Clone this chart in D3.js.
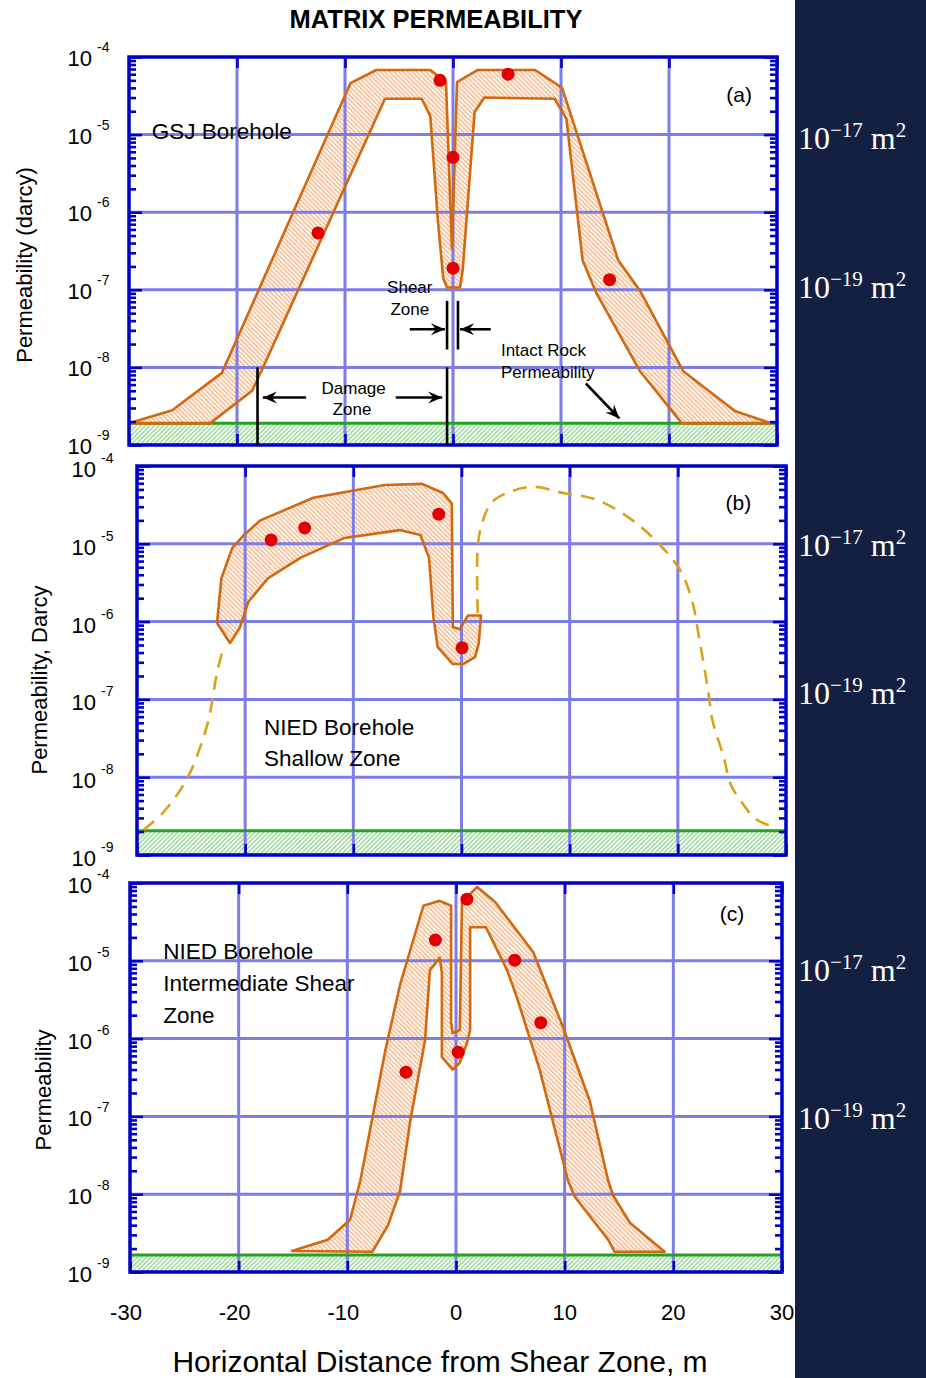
<!DOCTYPE html>
<html>
<head>
<meta charset="utf-8">
<script src="https://cdn.jsdelivr.net/npm/d3@7"></script>
<style>
  html, body { margin: 0; padding: 0; background: #fff; }
  svg { display: block; font-family: "Liberation Sans", Arial, sans-serif; }
</style>
</head>
<body>
<svg id="chart" width="926" height="1378"></svg>
<script>
// Horizontal distance from the shear zone (m)
const xTicks = [-30, -20, -10, 0, 10, 20, 30];
// Permeability decades (darcy exponents)
const decadeExps = [-4, -5, -6, -7, -8, -9];
// SI equivalents shown in the side strip
const siEquivalents = [
  { darcy: 1e-5, exp: "\u221217" },
  { darcy: 1e-7, exp: "\u221219" }
];

// (a) GSJ borehole: permeability envelope [distance m, permeability darcy]
const bandA = [
  [-30, 1.9e-9], [-26.0, 2.8e-9], [-21.4, 8.5e-9], [-9.5, 4.6e-5], [-7.1, 6.8e-5],
  [-2.1, 6.8e-5], [-0.65, 4.75e-5], [-0.1, 3.4e-7], [0.37, 4.75e-5], [2.3, 6.8e-5],
  [7.6, 6.8e-5], [10.1, 4.0e-5], [15.3, 2.4e-7], [17.3, 9.8e-8], [21.3, 9.0e-9],
  [26.1, 2.75e-9], [29.5, 1.9e-9], [21.2, 1.9e-9], [17.3, 9.0e-9], [13.3, 8.9e-8],
  [12.0, 2.4e-7], [10.5, 1.6e-5], [9.4, 2.9e-5], [2.9, 3.0e-5], [2.0, 1.95e-5],
  [0.9, 1.8e-7], [0.65, 1.07e-7], [-0.55, 1.07e-7], [-0.9, 1.4e-7], [-1.4, 7.8e-7],
  [-2.1, 1.73e-5], [-2.9, 2.9e-5], [-6.3, 2.9e-5], [-17.6, 9.9e-9], [-18.6, 5.0e-9],
  [-22.5, 1.9e-9]
];
const samplesA = [
  [-12.5, 5.4e-7], [-1.2, 5.0e-5], [5.1, 6.0e-5], [0, 5.1e-6], [0, 1.9e-7], [14.5, 1.35e-7]
];
const intactA = 1.9e-9;

// (b) NIED borehole, shallow zone
const bandB = [
  [-21.4, 5.3e-7], [-22.6, 9.6e-7], [-22.2, 3.6e-6], [-21.2, 8.8e-6], [-20.2, 1.26e-5],
  [-18.6, 2.0e-5], [-13.7, 3.9e-5], [-7.1, 5.7e-5], [-3.65, 5.9e-5], [-1.7, 4.5e-5],
  [-0.9, 3.3e-5], [-0.8, 8.5e-7], [-0.15, 8.0e-7], [0.6, 1.2e-6], [1.8, 1.2e-6],
  [1.6, 5.3e-7], [1.25, 3.5e-7], [0.15, 2.85e-7], [-0.8, 2.85e-7], [-2.2, 4.7e-7],
  [-2.6, 1.15e-6], [-3.0, 6.6e-6], [-3.8, 1.3e-5], [-5.7, 1.5e-5], [-10.8, 1.19e-5],
  [-14.9, 6.6e-6], [-17.9, 3.6e-6], [-19.7, 1.8e-6], [-20.5, 8.3e-7]
];
const samplesB = [
  [-17.6, 1.12e-5], [-14.5, 1.6e-5], [-2.1, 2.4e-5], [0.05, 4.6e-7]
];
// inferred profile outside the sampled interval
const trendBLeft = [
  [-29.4, 2.1e-9], [-27.6, 3.5e-9], [-25.6, 8.4e-9], [-24.6, 1.66e-8], [-23.4, 5.4e-8],
  [-22.6, 2.2e-7], [-21.95, 5.0e-7]
];
const trendBRight = [
  [1.5, 1.29e-6], [1.5, 9.1e-6], [1.9, 1.85e-5], [2.8, 3.4e-5], [4.2, 4.5e-5],
  [6.6, 5.4e-5], [9.4, 4.5e-5], [12.2, 3.8e-5], [15.1, 2.35e-5], [17.9, 1.12e-5],
  [20.2, 4.6e-6], [21.3, 1.9e-6], [22.0, 5.8e-7], [22.8, 1.3e-7], [23.2, 5.4e-8],
  [24.2, 1.9e-8], [24.9, 8.0e-9], [25.8, 5.0e-9], [27.2, 2.9e-9], [28.9, 2.3e-9]
];
const intactB = 2.05e-9;

// (c) NIED borehole, intermediate shear zone
const bandC = [
  [-15.1, 1.86e-9], [-11.8, 2.6e-9], [-9.75, 4.7e-9], [-8.8, 1.5e-8], [-6.5, 7.1e-7],
  [-5.15, 4.9e-6], [-3.0, 5.1e-5], [-1.5, 5.9e-5], [-0.45, 5.1e-5], [-0.45, 1.6e-6],
  [-0.3, 1.18e-6], [0.35, 1.29e-6], [0.55, 5.7e-5], [1.95, 8.9e-5], [3.6, 5.7e-5],
  [7.1, 1.3e-5], [9.85, 1.4e-6], [12.3, 1.6e-7], [14.0, 1.5e-8], [14.45, 9.7e-9],
  [16.0, 4.3e-9], [19.2, 1.82e-9], [14.6, 1.82e-9], [14.0, 2.6e-9], [10.95, 9.2e-9],
  [10.3, 1.5e-8], [7.7, 4.0e-7], [5.6, 3.4e-6], [4.7, 7.6e-6], [2.75, 2.7e-5],
  [1.3, 2.7e-5], [1.3, 1.29e-6], [1.0, 8.7e-7], [0.35, 4.9e-7], [-0.3, 4.0e-7],
  [-1.3, 5.8e-7], [-1.3, 7.0e-6], [-1.5, 1.09e-5], [-2.4, 7.6e-6], [-2.85, 9.5e-7],
  [-4.2, 8.9e-8], [-5.15, 1.1e-8], [-6.25, 4.0e-9], [-7.7, 1.82e-9]
];
const samplesC = [
  [-4.6, 3.7e-7], [-1.9, 1.85e-5], [1.0, 6.2e-5], [5.4, 1.02e-5], [7.8, 1.6e-6], [0.2, 6.7e-7]
];
const intactC = 1.66e-9;

const FRAME = "#0000c4", GRID = "#7d7de8", BAND = "#d2680f", DOT = "#e30000",
      TREND = "#d9a21b", ROCK = "#23a323";

const svg = d3.select("#chart");
const defs = svg.append("defs");

function hatch(id, bg, stroke, angle) {
  const s = 3.2;
  const p = defs.append("pattern").attr("id", id).attr("patternUnits", "userSpaceOnUse")
    .attr("width", s).attr("height", s).attr("patternTransform", `rotate(${angle})`);
  p.append("rect").attr("width", s).attr("height", s).attr("fill", bg);
  p.append("line").attr("x1", 0.6).attr("y1", 0).attr("x2", 0.6).attr("y2", s)
    .attr("stroke", stroke).attr("stroke-width", 1.1);
}
hatch("bandHatch", "#fff4ea", "#f3b083", -45);
hatch("rockHatch", "#f2faf2", "#8ad28a", 45);

defs.append("marker").attr("id", "barb").attr("viewBox", "-15 -7 16 14")
  .attr("refX", 0).attr("refY", 0).attr("markerWidth", 16).attr("markerHeight", 14)
  .attr("markerUnits", "userSpaceOnUse").attr("orient", "auto")
  .append("path").attr("d", "M0,0 L-14,-6 L-9,0 L-14,6 Z").attr("fill", "#000");

svg.append("rect").attr("width", 926).attr("height", 1378).attr("fill", "#fff");
svg.append("rect").attr("x", 795).attr("y", 0).attr("width", 131).attr("height", 1378).attr("fill", "#142042");

svg.append("text").attr("x", 436).attr("y", 28).attr("text-anchor", "middle")
  .attr("font-size", 25.5).attr("font-weight", "bold").text("MATRIX PERMEABILITY");

const decades = decadeExps.map(e => Math.pow(10, e));

function drawPanel(L, d) {
  const x = d3.scaleLinear().domain([-30, 30]).range([L.left, L.right]);
  const y = d3.scaleLog().domain([1e-9, 1e-4]).range([L.bottom, L.top]);
  const g = svg.append("g");
  const W = L.right - L.left;

  // intact-rock band
  g.append("rect").attr("x", L.left).attr("y", y(d.intact)).attr("width", W)
    .attr("height", L.bottom - y(d.intact)).attr("fill", "url(#rockHatch)");

  const line = d3.line().x(p => x(p[0])).y(p => y(p[1]));
  g.append("path").attr("d", line(d.band) + "Z").attr("fill", "url(#bandHatch)");

  // grid
  g.selectAll(null).data(xTicks.slice(1, -1)).join("line")
    .attr("x1", v => x(v)).attr("x2", v => x(v)).attr("y1", L.top).attr("y2", L.bottom)
    .attr("stroke", GRID).attr("stroke-width", 3);
  g.selectAll(null).data(decades.slice(1, -1)).join("line")
    .attr("x1", L.left).attr("x2", L.right).attr("y1", v => y(v)).attr("y2", v => y(v))
    .attr("stroke", GRID).attr("stroke-width", 3);

  g.append("line").attr("x1", L.left).attr("x2", L.right)
    .attr("y1", y(d.intact)).attr("y2", y(d.intact))
    .attr("stroke", ROCK).attr("stroke-width", 3);

  g.append("path").attr("d", line(d.band) + "Z").attr("fill", "none")
    .attr("stroke", BAND).attr("stroke-width", 2.6).attr("stroke-linejoin", "round");

  if (d.trend) {
    const curve = d3.line().x(p => x(p[0])).y(p => y(p[1])).curve(d3.curveCatmullRom.alpha(0.5));
    d.trend.forEach(seg => g.append("path").attr("d", curve(seg)).attr("fill", "none")
      .attr("stroke", TREND).attr("stroke-width", 2.6).attr("stroke-dasharray", "14,9"));
  }

  g.selectAll(null).data(d.samples).join("circle")
    .attr("cx", p => x(p[0])).attr("cy", p => y(p[1])).attr("r", 6.5).attr("fill", DOT);

  // axes: inward ticks on all four sides
  const minor = y.ticks().filter(v => !decades.some(m => Math.abs(v / m - 1) < 1e-6));
  const styleAxis = sel => {
    sel.select(".domain").remove();
    sel.selectAll(".tick line").attr("stroke", FRAME).attr("stroke-width", 2.6);
  };
  g.append("g").attr("transform", `translate(${L.left},0)`)
    .call(d3.axisLeft(y).tickValues(minor).tickSize(-7).tickFormat("")).call(styleAxis);
  g.append("g").attr("transform", `translate(${L.left},0)`)
    .call(d3.axisLeft(y).tickValues(decades).tickSize(-13).tickFormat("")).call(styleAxis);
  g.append("g").attr("transform", `translate(${L.right},0)`)
    .call(d3.axisRight(y).tickValues(minor).tickSize(-7).tickFormat("")).call(styleAxis);
  g.append("g").attr("transform", `translate(${L.right},0)`)
    .call(d3.axisRight(y).tickValues(decades).tickSize(-13).tickFormat("")).call(styleAxis);
  g.append("g").attr("transform", `translate(0,${L.top})`)
    .call(d3.axisTop(x).tickValues(xTicks).tickSize(-11).tickFormat("")).call(styleAxis);
  g.append("g").attr("transform", `translate(0,${L.bottom})`)
    .call(d3.axisBottom(x).tickValues(xTicks).tickSize(-11).tickFormat("")).call(styleAxis);

  g.append("rect").attr("x", L.left).attr("y", L.top).attr("width", W)
    .attr("height", L.bottom - L.top).attr("fill", "none")
    .attr("stroke", FRAME).attr("stroke-width", 3.5);

  // decade labels 10^n
  decadeExps.forEach((e, i) => {
    const yy = y(decades[i]);
    g.append("text").attr("x", L.labelRight).attr("y", yy + L.labelDy).attr("text-anchor", "end")
      .attr("font-size", 22).text("10");
    g.append("text").attr("x", L.labelRight + 5).attr("y", yy + L.labelDy - 14)
      .attr("font-size", 14).text("-" + Math.abs(e));
  });

  // axis title
  g.append("text").attr("transform", `translate(${L.titleX},${L.titleY}) rotate(-90)`)
    .attr("text-anchor", "middle").attr("font-size", 22).text(L.title);

  // SI equivalents
  siEquivalents.forEach((s, i) => {
    const t = svg.append("text").attr("x", 798).attr("y", L.si[i])
      .attr("font-family", "'Liberation Serif', 'Times New Roman', serif")
      .attr("font-size", 32).attr("fill", "#fff");
    t.append("tspan").text("10");
    t.append("tspan").attr("dy", -12).attr("font-size", 21).text(s.exp);
    t.append("tspan").attr("dy", 12).text(" m");
    t.append("tspan").attr("dy", -12).attr("font-size", 21).text("2");
  });

  // panel letter
  g.append("text").attr("x", x(d.letterAt[0])).attr("y", y(d.letterAt[1]))
    .attr("text-anchor", "middle").attr("font-size", 21).text(d.letter);

  // borehole caption
  d.caption.lines.forEach((s, i) => {
    g.append("text").attr("x", x(d.caption.x)).attr("y", y(d.caption.k[i]))
      .attr("font-size", 22.5).text(s);
  });

  return { x, y, g };
}

const A = drawPanel(
  { left: 129, right: 777, top: 57, bottom: 445, labelRight: 92, labelDy: 9,
    title: "Permeability (darcy)", titleX: 32, titleY: 265, si: [149, 298] },
  { band: bandA, samples: samplesA, intact: intactA, letter: "(a)", letterAt: [26.5, 2.6e-5],
    caption: { x: -27.9, k: [8.7e-6], lines: ["GSJ Borehole"] } });

const B = drawPanel(
  { left: 137, right: 786, top: 466, bottom: 855, labelRight: 96, labelDy: 11,
    title: "Permeability, Darcy", titleX: 47, titleY: 680, si: [556, 704] },
  { band: bandB, samples: samplesB, intact: intactB, trend: [trendBLeft, trendBRight],
    letter: "(b)", letterAt: [25.6, 2.7e-5],
    caption: { x: -18.25, k: [3.5e-8, 1.4e-8], lines: ["NIED Borehole", "Shallow Zone"] } });

const C = drawPanel(
  { left: 130, right: 782, top: 883, bottom: 1272, labelRight: 92, labelDy: 10,
    title: "Permeability", titleX: 51, titleY: 1090, si: [981, 1129] },
  { band: bandC, samples: samplesC, intact: intactC, letter: "(c)", letterAt: [25.4, 3.2e-5],
    caption: { x: -26.95, k: [1.05e-5, 4.1e-6, 1.6e-6],
               lines: ["NIED Borehole", "Intermediate Shear", "Zone"] } });

// bottom distance labels and title
xTicks.forEach(v => {
  svg.append("text").attr("x", C.x(v) + (v < 0 ? -4 : 0)).attr("y", 1320)
    .attr("text-anchor", "middle").attr("font-size", 22).text(v);
});
svg.append("text").attr("x", 440).attr("y", 1372).attr("text-anchor", "middle")
  .attr("font-size", 30).text("Horizontal Distance from Shear Zone, m");

// annotations in panel (a): damage zone, shear zone, intact rock
(function annotate({ x, y, g }) {
  const seg = (x1, k1, x2, k2, arrow) => g.append("line")
    .attr("x1", x(x1)).attr("y1", y(k1)).attr("x2", x(x2)).attr("y2", y(k2))
    .attr("stroke", "#000").attr("stroke-width", 2.6)
    .attr("marker-end", arrow ? "url(#barb)" : null);
  const label = (s, xv, k, anchor) => g.append("text").attr("x", x(xv)).attr("y", y(k))
    .attr("text-anchor", anchor).attr("font-size", 17).text(s);

  // damage zone
  seg(-18.1, 1e-8, -18.1, 1e-9);
  seg(-0.55, 1e-8, -0.55, 1e-9);
  seg(-13.6, 4.1e-9, -17.6, 4.1e-9, true);
  seg(-5.3, 4.1e-9, -1.0, 4.1e-9, true);
  label("Damage", -9.2, 4.6e-9, "middle");
  label("Zone", -9.35, 2.4e-9, "middle");

  // shear zone
  seg(-0.55, 7.2e-8, -0.55, 1.7e-8);
  seg(0.46, 7.2e-8, 0.46, 1.7e-8);
  seg(-4.0, 3.1e-8, -0.75, 3.1e-8, true);
  seg(3.5, 3.1e-8, 0.66, 3.1e-8, true);
  label("Shear", -4.0, 9.2e-8, "middle");
  label("Zone", -4.0, 4.8e-8, "middle");

  // intact rock permeability
  label("Intact Rock", 4.44, 1.4e-8, "start");
  label("Permeability", 4.44, 7.3e-9, "start");
  seg(12.3, 6.2e-9, 15.4, 2.2e-9, true);
})(A);
</script>
</body>
</html>
